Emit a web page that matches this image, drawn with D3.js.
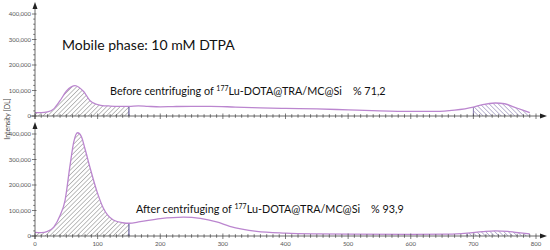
<!DOCTYPE html>
<html>
<head>
<meta charset="utf-8">
<script src="https://cdn.jsdelivr.net/npm/d3@7"></script>
<style>
  body { margin: 0; background: #fff; }
  svg { display: block; }
  text { white-space: pre; }
</style>
</head>
<body>
<div id="chart"></div>
<script>
// channel positions and counts
const topChannels = [0, 10, 20, 30, 40, 50, 58, 64, 70, 78, 88, 96, 105, 120, 135, 150, 165, 180, 200, 220, 250, 280, 320, 360, 400, 450, 500, 550, 600, 640, 670, 700, 715, 735, 750, 765, 780, 790];
const topCounts   = [13000, 13000, 16000, 28000, 60000, 97000, 114000, 119000, 113000, 95000, 60000, 48000, 42000, 39000, 38000, 38000, 40000, 38000, 36000, 37000, 38000, 38000, 35000, 32000, 30000, 28000, 24000, 20000, 18000, 18000, 23000, 35000, 45000, 51000, 48000, 35000, 22000, 13000];

const botChannels = [0, 10, 20, 30, 40, 48, 56, 62, 68, 74, 80, 88, 99, 109, 125, 140, 150, 168, 200, 237, 264, 290, 311, 354, 400, 450, 500, 600, 660, 690, 715, 735, 755, 775, 790];
const botCounts   = [14000, 13000, 18000, 35000, 80000, 140000, 278000, 370000, 405000, 390000, 340000, 267000, 174000, 110000, 63000, 52000, 50000, 56000, 68000, 74000, 69000, 55000, 38000, 18000, 11000, 8000, 7000, 6000, 7000, 11000, 17000, 20000, 18000, 12000, 8000];

const yTicks = [0, 100000, 200000, 300000, 400000];
const xTicks = [0, 100, 200, 300, 400, 500, 600, 700, 800];

const panels = [
  { ch: topChannels, val: topCounts, y0: 116, y1: 14, showX: false, right: [700, 790],
    label: ["Before centrifuging of ", "177", "Lu-DOTA@TRA/MC@Si    % 71,2"], lx: 110, ly: 95 },
  { ch: botChannels, val: botCounts, y0: 236, y1: 134, showX: true, right: [690, 790],
    label: ["After centrifuging of ", "177", "Lu-DOTA@TRA/MC@Si    % 93,9"], lx: 136, ly: 213 }
];

const W = 550, H = 250;
const svg = d3.select("#chart").append("svg").attr("width", W).attr("height", H);

const defs = svg.append("defs");
function hatch(id, angle, color) {
  const p = defs.append("pattern")
    .attr("id", id)
    .attr("patternUnits", "userSpaceOnUse")
    .attr("width", 3.2).attr("height", 3.2)
    .attr("patternTransform", `rotate(${angle})`);
  p.append("line").attr("x1", 0).attr("y1", 0).attr("x2", 0).attr("y2", 3.2)
    .attr("stroke", color).attr("stroke-width", 0.8);
}
hatch("hatchL", 45, "#5f5f5f");
hatch("hatchR", -45, "#665a9a");

const x = d3.scaleLinear().domain([0, 800]).range([35, 536]);
const curveCol = "#bb86cf";

panels.forEach(p => {
  const y = d3.scaleLinear().domain([0, 400000]).range([p.y0, p.y1]);
  const pts = p.ch.map((c, i) => ({ c: c, v: p.val[i] }));

  const area = d3.area().x(d => x(d.c)).y0(y(0)).y1(d => y(d.v)).curve(d3.curveMonotoneX);
  const line = d3.line().x(d => x(d.c)).y(d => y(d.v)).curve(d3.curveMonotoneX);

  const left = pts.filter(d => d.c <= 150);
  const right = pts.filter(d => d.c >= p.right[0] && d.c <= p.right[1]);

  svg.append("path").datum(left).attr("d", area).attr("fill", "url(#hatchL)");
  svg.append("path").datum(right).attr("d", area).attr("fill", "url(#hatchR)");

  const v150 = pts.find(d => d.c === 150).v;
  svg.append("line")
    .attr("x1", x(150)).attr("x2", x(150))
    .attr("y1", y(0)).attr("y2", y(v150))
    .attr("stroke", "#4a3f8c").attr("stroke-width", 1);
  const vr = right[0].v;
  svg.append("line")
    .attr("x1", x(right[0].c)).attr("x2", x(right[0].c))
    .attr("y1", y(0)).attr("y2", y(vr))
    .attr("stroke", "#6a5c9c").attr("stroke-width", 0.8);

  svg.append("path").datum(pts).attr("d", line)
    .attr("fill", "none").attr("stroke", curveCol).attr("stroke-width", 1.3);

  // x axis with minor ticks crossing the line
  const ax = svg.append("g").attr("stroke", "#444");
  ax.append("line").attr("x1", 30).attr("x2", 542).attr("y1", y(0)).attr("y2", y(0)).attr("stroke-width", 0.8);
  d3.range(0, 801, 10).forEach(c => {
    const major = c % 100 === 0;
    ax.append("line")
      .attr("x1", x(c)).attr("x2", x(c))
      .attr("y1", y(0) - (major ? 2.5 : 1.8)).attr("y2", y(0) + (major ? 3 : 1.8))
      .attr("stroke-width", 0.7);
  });
  svg.append("path")
    .attr("d", `M${547},${y(0)} L${540},${y(0) - 2.5} L${540},${y(0) + 2.5} Z`)
    .attr("fill", "#222");

  // y axis
  const ay = svg.append("g").attr("stroke", "#444");
  ay.append("line").attr("x1", x(0)).attr("x2", x(0)).attr("y1", p.y1 - 8).attr("y2", y(0) + 3).attr("stroke-width", 0.8);
  d3.range(0, 400001, 20000).forEach(v => {
    const major = v % 100000 === 0;
    ay.append("line")
      .attr("x1", x(0) - (major ? 3 : 1.8)).attr("x2", x(0) + (major ? 1.5 : 0))
      .attr("y1", y(v)).attr("y2", y(v))
      .attr("stroke-width", 0.7);
  });
  svg.append("path")
    .attr("d", `M${x(0)},${p.y1 - 12} L${x(0) - 2.5},${p.y1 - 5} L${x(0) + 2.5},${p.y1 - 5} Z`)
    .attr("fill", "#222");

  svg.append("g").selectAll("text").data(yTicks).join("text")
    .attr("x", x(0) - 4).attr("y", d => y(d) + 2)
    .attr("text-anchor", "end")
    .attr("font-family", "Lato, sans-serif").attr("font-size", 6)
    .attr("fill", "#555")
    .text(d => d3.format(",")(d));

  if (p.showX) {
    svg.append("g").selectAll("text").data(xTicks).join("text")
      .attr("x", d => x(d)).attr("y", y(0) + 10)
      .attr("text-anchor", "middle")
      .attr("font-family", "Lato, sans-serif").attr("font-size", 6)
      .attr("fill", "#555")
      .text(d => d);
  }

  const t = svg.append("text")
    .attr("x", p.lx).attr("y", p.ly)
    .attr("font-family", "Lato, sans-serif").attr("font-size", 10.8)
    .attr("fill", "#111");
  t.append("tspan").text(p.label[0]);
  t.append("tspan").attr("font-size", 7).attr("dy", -4).text(p.label[1]);
  t.append("tspan").attr("dy", 4).text(p.label[2]);
});

svg.append("text")
  .attr("x", 62).attr("y", 50)
  .attr("font-family", "Lato, sans-serif").attr("font-size", 14)
  .attr("fill", "#111")
  .text("Mobile phase: 10 mM DTPA");

svg.append("text")
  .attr("transform", "translate(10,119) rotate(-90)")
  .attr("text-anchor", "middle")
  .attr("font-family", "Lato, sans-serif").attr("font-size", 7)
  .attr("fill", "#444")
  .text("Intensity [DL]");
</script>
</body>
</html>
